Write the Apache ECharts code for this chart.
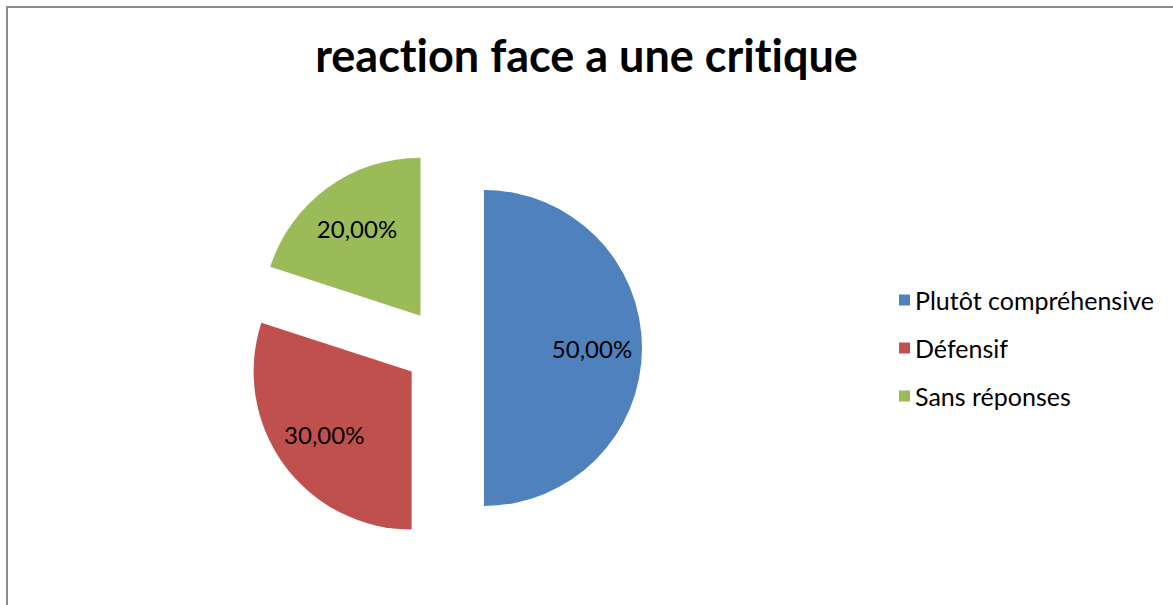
<!DOCTYPE html>
<html>
<head>
<meta charset="utf-8">
<script src="https://cdn.jsdelivr.net/npm/echarts@6/dist/echarts.min.js"></script>
<style>
  html, body { margin: 0; padding: 0; background: #fff; }
  #chart { width: 1173px; height: 605px; }
  #chart text { font-variant-ligatures: none; }
</style>
</head>
<body>
<div id="chart"></div>
<script>
// Réactions face à une critique (pourcentages)
const categories = ['Plutôt compréhensive', 'Défensif', 'Sans réponses'];
const shares = [50, 30, 20];
const colors = ['#4F81BD', '#C0504D', '#9BBB59'];

const FONT = 'Lato';
const fmt = v => v.toFixed(2).replace('.', ',') + '%';

const slices = categories.map((name, i) => ({
  name, value: shares[i], selected: true,
  itemStyle: { color: colors[i] }
}));
const labelSlices = categories.map((name, i) => ({
  name, value: shares[i], selected: true,
  itemStyle: { color: 'rgba(0,0,0,0)' }
}));

const chart = echarts.init(document.getElementById('chart'), null, { renderer: 'svg' });
const center = [444, 348];
const R = 158;
const common = {
  type: 'pie',
  center: center,
  startAngle: 90,
  clockwise: true,
  selectedMode: 'multiple',
  selectedOffset: 40,
  animation: false,
  emphasis: { disabled: true },
  labelLine: { show: false }
};

chart.setOption({
  backgroundColor: '#fff',
  title: {
    text: 'reaction face a une critique',
    left: 'center',
    top: 27,
    textStyle: { fontFamily: FONT, fontWeight: 'bold', fontSize: 45, color: '#000' }
  },
  legend: {
    orient: 'vertical',
    left: 894,
    top: 282,
    icon: 'rect',
    itemWidth: 11,
    itemHeight: 11,
    itemGap: 22,
    selectedMode: false,
    data: categories,
    textStyle: { fontFamily: FONT, fontSize: 25, color: '#000', lineHeight: 26 }
  },
  graphic: [{
    type: 'rect',
    shape: { x: 7, y: 7, width: 1300, height: 800 },
    style: { fill: 'none', stroke: '#8c8c8c', lineWidth: 2 },
    silent: true
  }],
  series: [
    Object.assign({}, common, {
      name: 'parts',
      radius: R,
      label: { show: false },
      data: slices
    }),
    Object.assign({}, common, {
      name: 'libellés',
      radius: [52, R],
      silent: true,
      z: 3,
      label: {
        show: true,
        position: 'inside',
        formatter: p => fmt(p.value),
        fontFamily: FONT,
        fontSize: 24,
        color: '#000'
      },
      data: labelSlices
    })
  ]
});
</script>
</body>
</html>
